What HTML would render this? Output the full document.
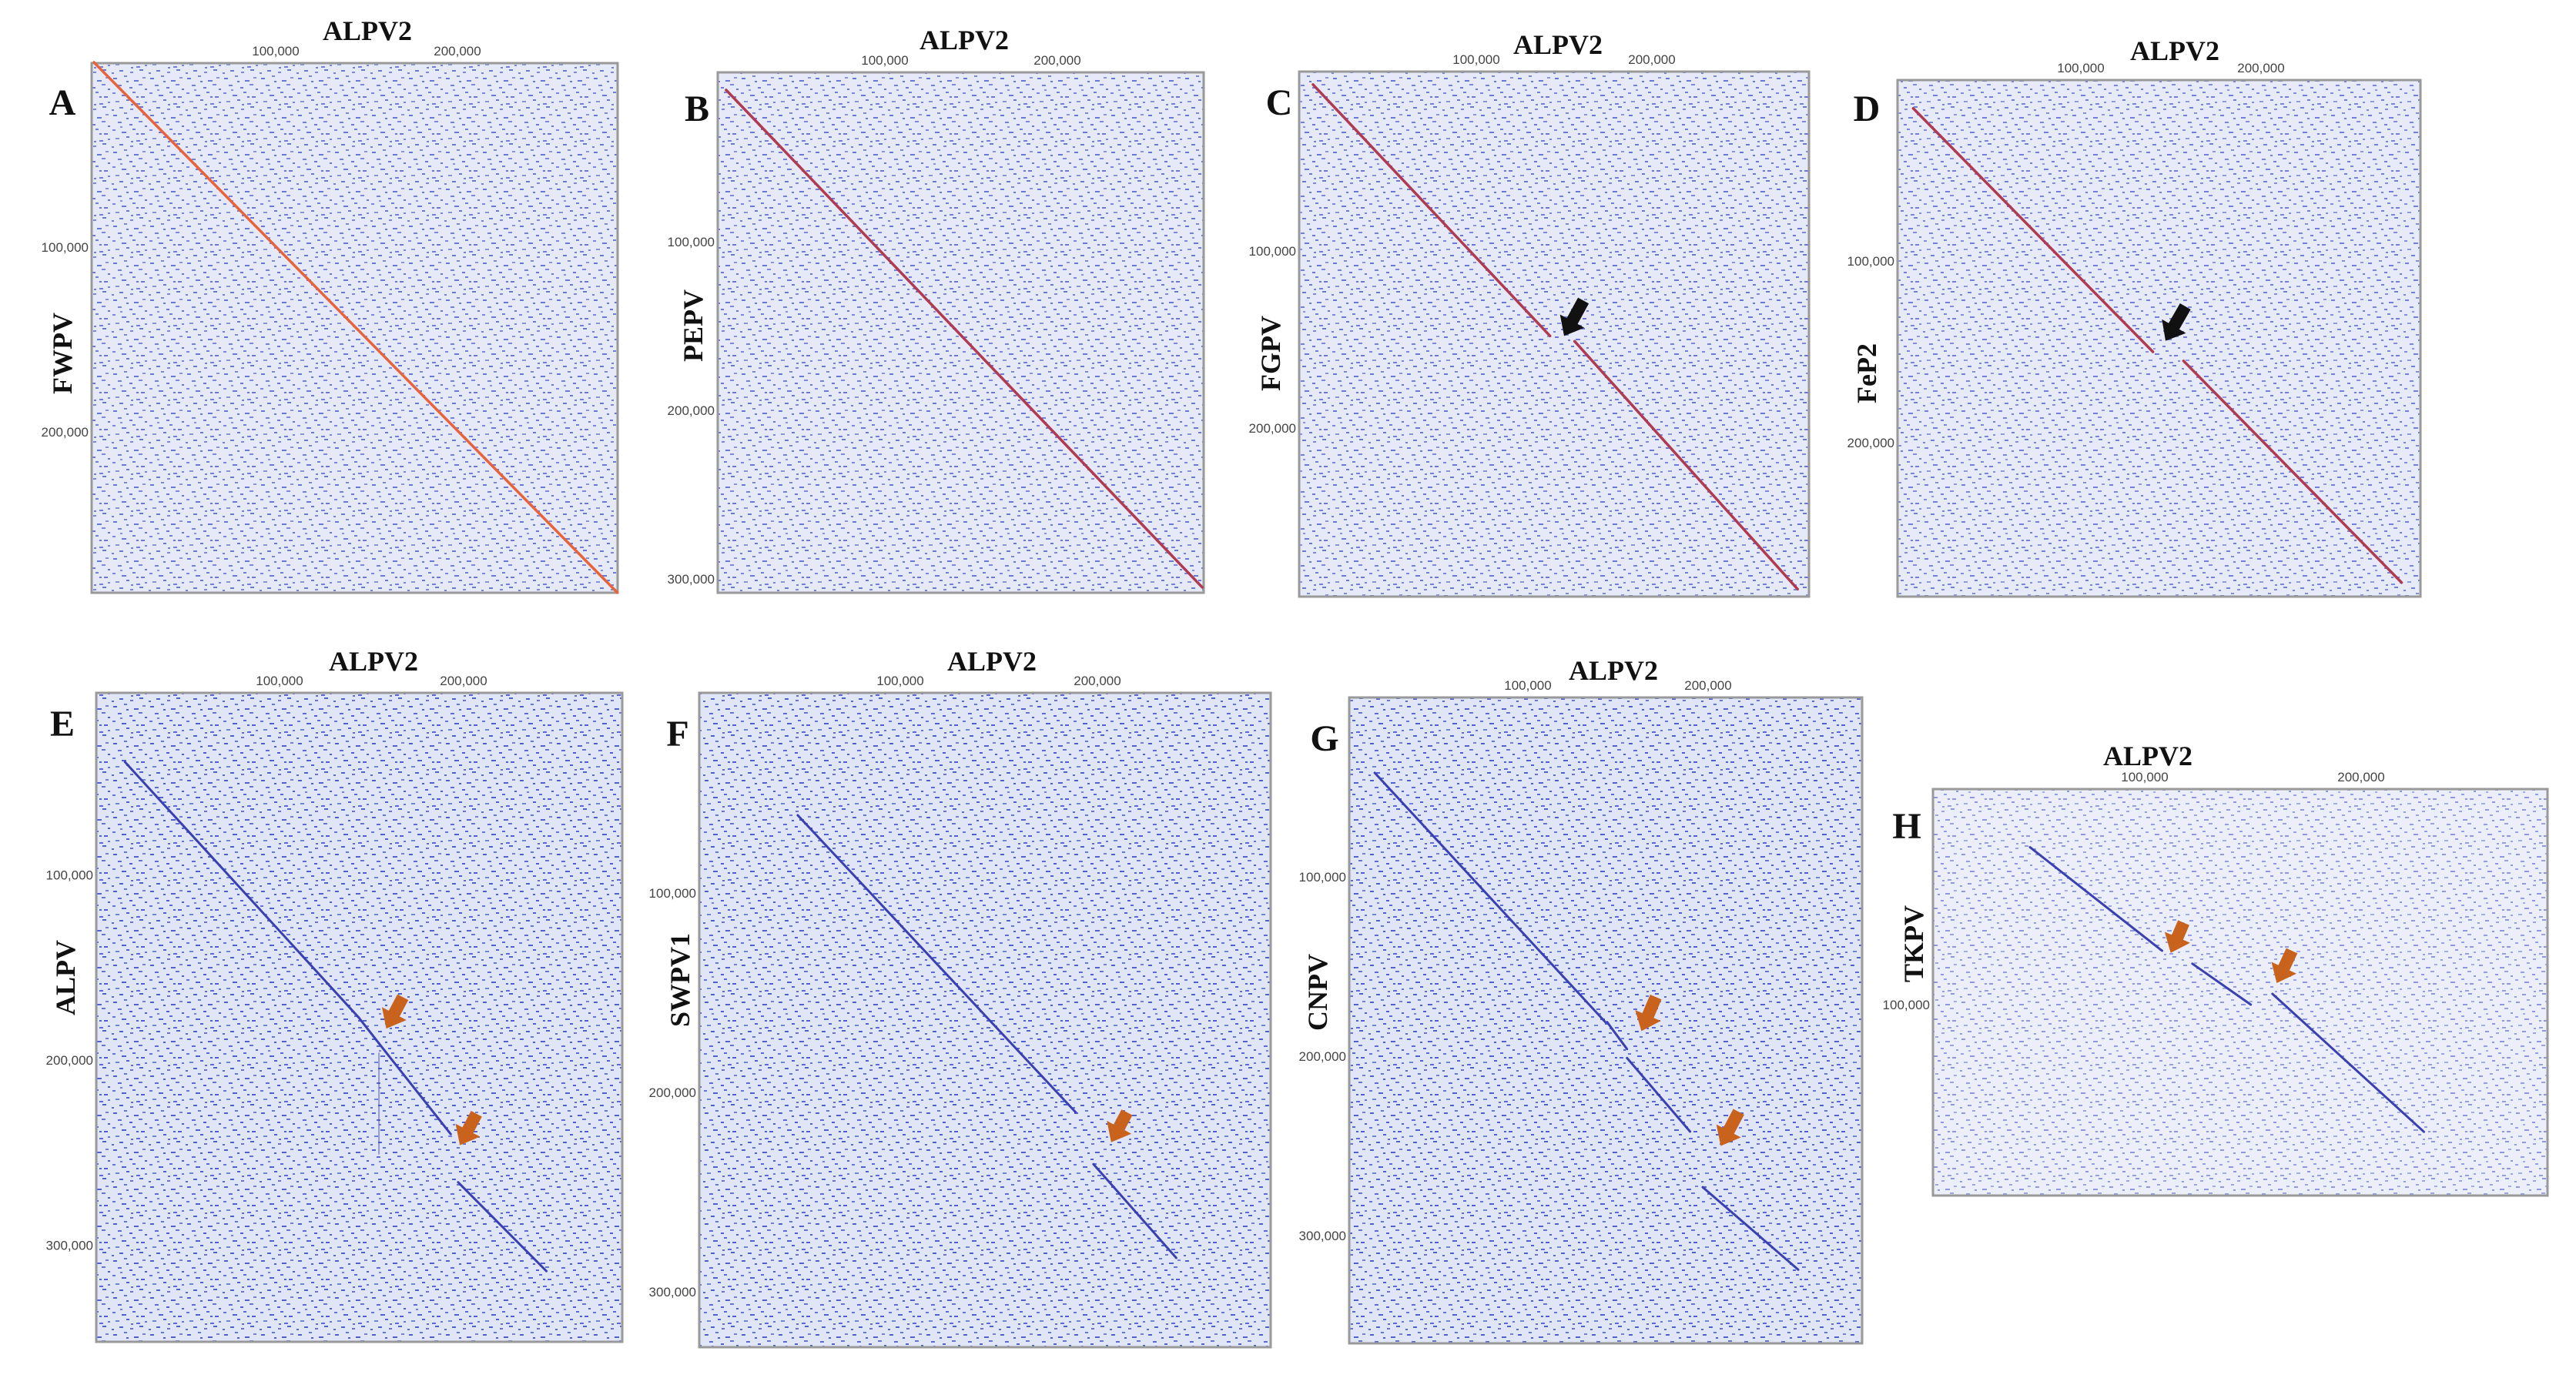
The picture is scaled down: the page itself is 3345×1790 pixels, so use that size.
<!DOCTYPE html>
<html><head><meta charset="utf-8">
<style>
html,body{margin:0;padding:0;background:#fff;}
svg{display:block;}
.title{font-family:"Liberation Serif",serif;font-weight:bold;font-size:36px;fill:#111;}
.letter{font-family:"Liberation Serif",serif;font-weight:bold;font-size:48px;fill:#111;}
.ylab{font-family:"Liberation Serif",serif;font-weight:bold;font-size:36px;fill:#111;}
.tick{font-family:"Liberation Sans",sans-serif;font-size:17px;fill:#444;}
</style></head>
<body>
<svg id="fig" width="3345" height="1790" viewBox="0 0 3345 1790" xmlns="http://www.w3.org/2000/svg">
<defs>
<pattern id="noise" width="48" height="48" patternUnits="userSpaceOnUse">
<rect x="3" y="5" width="5" height="2" fill="#3d52cc"/><rect x="17" y="2" width="4" height="2" fill="#5468d8"/>
<rect x="30" y="8" width="6" height="2" fill="#3d52cc"/><rect x="41" y="4" width="4" height="2" fill="#6476dc"/>
<rect x="9" y="14" width="5" height="2" fill="#4a5ed2"/><rect x="24" y="17" width="4" height="2" fill="#3d52cc"/>
<rect x="36" y="13" width="5" height="2" fill="#5468d8"/><rect x="44" y="19" width="3" height="2" fill="#3d52cc"/>
<rect x="2" y="24" width="4" height="2" fill="#5468d8"/><rect x="14" y="27" width="6" height="2" fill="#3d52cc"/>
<rect x="28" y="23" width="4" height="2" fill="#4a5ed2"/><rect x="39" y="29" width="5" height="2" fill="#3d52cc"/>
<rect x="6" y="35" width="5" height="2" fill="#6476dc"/><rect x="20" y="33" width="4" height="2" fill="#3d52cc"/>
<rect x="33" y="38" width="5" height="2" fill="#4a5ed2"/><rect x="44" y="36" width="3" height="2" fill="#5468d8"/>
<rect x="11" y="43" width="5" height="2" fill="#3d52cc"/><rect x="25" y="45" width="4" height="2" fill="#5468d8"/>
<rect x="37" y="42" width="5" height="2" fill="#3d52cc"/><rect x="1" y="46" width="3" height="2" fill="#4a5ed2"/>
<rect x="20" y="9" width="3" height="2" fill="#3d52cc"/><rect x="12" y="20" width="3" height="2" fill="#6476dc"/>
<rect x="33" y="29" width="3" height="2" fill="#3d52cc"/><rect x="26" y="39" width="3" height="2" fill="#4a5ed2"/>
</pattern>
</defs>
</svg>
<script>
// Panel layout: box [left, top, right, bottom] and axis scales (origin px, px per kb)
const panelIds = ['A','B','C','D','E','F','G','H'];
const queryNames = ['FWPV','PEPV','FGPV','FeP2','ALPV','SWPV1','CNPV','TKPV'];
const xTickValues = [100, 200]; // kb
const xTickLabels = ['100,000','200,000'];
const yTickValuesA = [100, 200];
const yTickValuesB = [100, 200, 300];
const yTickValuesH = [100];
// Alignment segments (kb): [x1, y1, x2, y2]
const segA = [[0,0,288,287]];
const segB = [[8,10,284,305]];
const segC = [[7,6,142,148],[156,151,283,291]];
const segD = [[7,16,140,150],[157,155,278,277]];
const segE = [[16,39,143,177],[143,177,154,191],[154,191,193,240],[197,266,245,314]];
const faintE = [[154,196,154,251]];
const segF = [[48,61,189,210],[198,236,240,283]];
const segG = [[15,42,143,181],[144,181,155,196],[155,201,190,242],[197,273,250,319]];
const segH = [[47,27,108,75],[122,81,149,100],[159,95,229,159]];
// Arrows (kb): [tailX, tailY, tipX, tipY]
const arrC = [[161,128,150,148]];
const arrD = [[158,125,147,144]];
const arrE = [[167,166,158,183],[207,229,198,246]];
const arrF = [[215,210,207,225]];
const arrG = [[171,167,163,186],[217,231,207,250]];
const arrH = [[118,62,112,76],[168,75,161,90]];

const panels = [
 {box:[119,82,802,770], x0:122, kx:2.36, y0:81, ky:2.40, title:[477,40], letter:[81,133], ylab:[81,459], yTicks:yTickValuesA, seg:segA, faint:[], arr:[], line:'#e8623a', lw:3.5, arrowCol:'#111', bgOp:0.75},
 {box:[932,94,1563,770], x0:925, kx:2.24, y0:95, ky:2.19, title:[1252,52], letter:[905,141], ylab:[900,423], yTicks:yTickValuesB, seg:segB, faint:[], arr:[], line:'#b03a50', lw:3.5, arrowCol:'#111', bgOp:0.75},
 {box:[1687,93,2349,775], x0:1689, kx:2.28, y0:96, ky:2.30, title:[2023,58], letter:[1661,133], ylab:[1650,459], yTicks:yTickValuesA, seg:segC, faint:[], arr:arrC, line:'#b03a50', lw:3.5, arrowCol:'#111', bgOp:0.75},
 {box:[2464,104,3143,775], x0:2468, kx:2.34, y0:103, ky:2.36, title:[2824,66], letter:[2424,141], ylab:[2424,485], yTicks:yTickValuesA, seg:segD, faint:[], arr:arrD, line:'#b03a50', lw:3.5, arrowCol:'#111', bgOp:0.7},
 {box:[125,900,808,1743], x0:124, kx:2.39, y0:896, ky:2.405, title:[485,859], letter:[81,940], ylab:[85,1270], yTicks:yTickValuesB, seg:segE, faint:faintE, arr:arrE, line:'#3a40b0', lw:3, arrowCol:'#c8621c', bgOp:0.9},
 {box:[908,900,1650,1750], x0:913, kx:2.56, y0:901, ky:2.59, title:[1288,859], letter:[880,953], ylab:[883,1273], yTicks:yTickValuesB, seg:segF, faint:[], arr:arrF, line:'#3a40b0', lw:3, arrowCol:'#c8621c', bgOp:0.9},
 {box:[1752,906,2418,1745], x0:1750, kx:2.34, y0:906, ky:2.33, title:[2095,871], letter:[1720,959], ylab:[1711,1289], yTicks:yTickValuesB, seg:segG, faint:[], arr:arrG, line:'#3a40b0', lw:3, arrowCol:'#c8621c', bgOp:0.9},
 {box:[2510,1025,3308,1553], x0:2504, kx:2.81, y0:1025, ky:2.80, title:[2789,982], letter:[2476,1073], ylab:[2485,1226], yTicks:yTickValuesH, seg:segH, faint:[], arr:arrH, line:'#3a40b0', lw:3, arrowCol:'#c8621c', bgOp:0.55}
];

const NS = 'http://www.w3.org/2000/svg';
const svg = document.getElementById('fig');
function mk(tag, attrs, parent){
  const e = document.createElementNS(NS, tag);
  for (const k in attrs) e.setAttribute(k, attrs[k]);
  (parent||svg).appendChild(e);
  return e;
}

panels.forEach((p, i) => {
  const id = panelIds[i].toLowerCase();
  const sx = v => p.x0 + v * p.kx;
  const sy = v => p.y0 + v * p.ky;
  const [l,t,r,b] = p.box;
  const g = mk('g', {});
  
  

  const bg = mk('rect', {x:l, y:t, width:r-l, height:b-t, fill:'#dde2f6', opacity:p.bgOp}, g);
  
  
  const nz = mk('rect', {x:l, y:t, width:r-l, height:b-t, fill:'url(#noise)', opacity:p.bgOp}, g);
  
  
  const frame = mk('rect', {x:l, y:t, width:r-l, height:b-t, fill:'none', stroke:'#999', 'stroke-width':3}, g);
  
  

  p.faint.forEach((s, j) => {
    const ln = mk('line', {x1:sx(s[0]), y1:sy(s[1]), x2:sx(s[2]), y2:sy(s[3]), stroke:p.line, 'stroke-width':2, opacity:0.45}, g);
    
    
  });

  p.seg.forEach((s, j) => {
    const ln = mk('line', {x1:sx(s[0]), y1:sy(s[1]), x2:sx(s[2]), y2:sy(s[3]), stroke:p.line, 'stroke-width':p.lw, 'stroke-linecap':'round'}, g);
    
    
  });

  p.arr.forEach((a, j) => {
    const tx = sx(a[0]), ty = sy(a[1]), hx = sx(a[2]), hy = sy(a[3]);
    const dx = hx - tx, dy = hy - ty, L = Math.hypot(dx, dy);
    const ux = dx / L, uy = dy / L, nx = -uy, ny = ux;
    const hl = 22, sw = 8, hw = 18;
    const bx = hx - ux*hl, by = hy - uy*hl;
    const pts = [[tx+nx*sw,ty+ny*sw],[bx+nx*sw,by+ny*sw],[bx+nx*hw,by+ny*hw],[hx,hy],[bx-nx*hw,by-ny*hw],[bx-nx*sw,by-ny*sw],[tx-nx*sw,ty-ny*sw]];
    const pg = mk('polygon', {points: pts.map(q=>q[0].toFixed(1)+','+q[1].toFixed(1)).join(' '), fill:p.arrowCol}, g);
    
    
  });

  xTickValues.forEach((v, j) => {
    const tx = mk('text', {x:sx(v), y:t-10, 'text-anchor':'middle', class:'tick'}, g);
    tx.textContent = xTickLabels[j];
    
    
  });
  p.yTicks.forEach((v, j) => {
    const ty = mk('text', {x:l-4, y:sy(v)+6, 'text-anchor':'end', class:'tick'}, g);
    ty.textContent = (v*1000).toLocaleString('en-US');
    
    
  });

  const ti = mk('text', {x:p.title[0], y:p.title[1]+12, 'text-anchor':'middle', class:'title'}, g);
  ti.textContent = 'ALPV2';
  
  

  const le = mk('text', {x:p.letter[0], y:p.letter[1]+16, 'text-anchor':'middle', class:'letter'}, g);
  le.textContent = panelIds[i];
  
  

  const yl = mk('text', {x:0, y:0, 'text-anchor':'middle', class:'ylab', transform:'translate('+(p.ylab[0]+12)+','+p.ylab[1]+') rotate(-90)'}, g);
  yl.textContent = queryNames[i];
  
  
});
</script>
</body></html>
